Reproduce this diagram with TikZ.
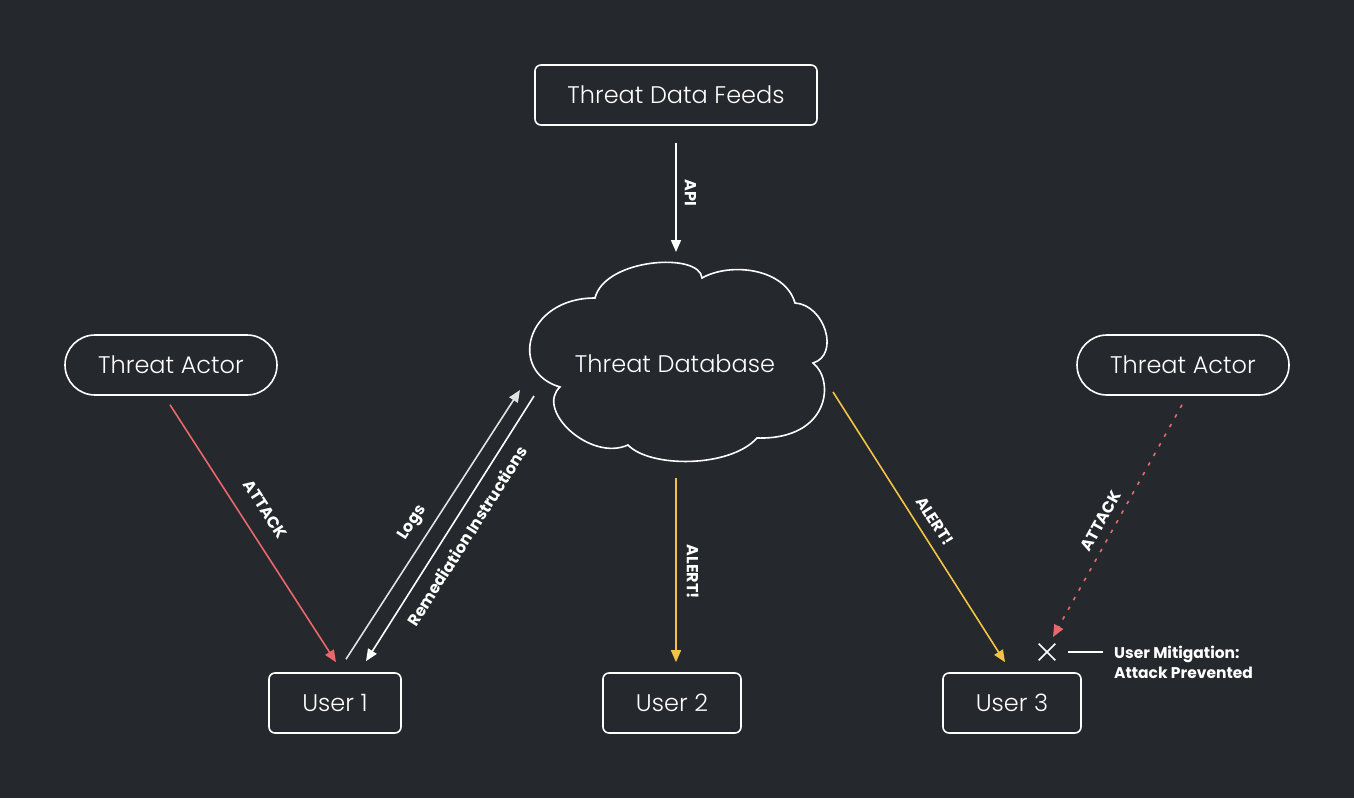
\documentclass[tikz,border=0pt]{standalone}
\usepackage{fontspec}
\setmainfont{Poppins}
\newfontfamily\lightfont{Poppins Light}
\usetikzlibrary{shapes.misc,arrows.meta,calc}
\definecolor{bg}{HTML}{25282C}
\definecolor{atk}{HTML}{E8686C}
\definecolor{alr}{HTML}{F4C245}
\definecolor{lg}{HTML}{E2E2E2}
\begin{document}
\begin{tikzpicture}[x=1pt,y=-1pt,
  box/.style={draw=white, line width=1.6pt, rounded corners=6pt, minimum height=60pt, inner sep=0pt, text=white, font=\lightfont\fontsize{24}{28}\selectfont},
  pill/.style={box, rounded corners=30pt},
  lbl/.style={text=white, font=\bfseries\fontsize{16}{18}\selectfont, sloped, inner sep=1pt},
  conn/.style={line width=1.6pt, -{Triangle[length=12pt,width=10pt]}},
  dotline/.style={conn, dash pattern=on 3.5pt off 7.5pt}
]
\fill[bg] (0,0) rectangle (1354,798);
\useasboundingbox (0,0) rectangle (1354,798);

% nodes
\node[box, minimum width=282pt] (feeds) at (676,95) {Threat Data Feeds};
\node[pill, minimum width=212pt] (ta1) at (171,365) {Threat Actor};
\node[pill, minimum width=212pt] (ta2) at (1183,365) {Threat Actor};
\node[box, minimum width=132pt] (u1) at (335,703) {User 1};
\node[box, minimum width=138pt] (u2) at (672,703) {User 2};
\node[box, minimum width=138pt] (u3) at (1012,703) {User 3};
\node[minimum width=300pt, minimum height=200pt, inner sep=0pt, text=white, font=\lightfont\fontsize{24}{28}\selectfont] (db) at (675,364) {Threat Database};
\node[cross out, draw=white, line width=1.6pt, minimum size=15pt, inner sep=0pt] (xm) at (1047,652) {};
\node[anchor=west, align=left, inner sep=0pt, text=white, font=\bfseries\fontsize{15.5}{20}\selectfont] (mit) at (1114,662) {User Mitigation:\\Attack Prevented};

% cloud outline
\draw[white, line width=1.6pt, line join=miter]
  (595,298) .. controls (605,258) and (700,252) .. (702,278)
  .. controls (730,262) and (785,268) .. (795,303)
  .. controls (825,305) and (840,355) .. (813,363)
  .. controls (835,380) and (830,440) .. (757,438)
  .. controls (730,468) and (650,468) .. (628,445)
  .. controls (590,462) and (535,410) .. (560,387)
  .. controls (508,372) and (525,298) .. cycle;

% connectors
\draw[conn, white] ($(feeds.south)+(0,17)$) -- node[lbl, pos=0.46, above=7pt]{API} ($(db.center)+(1,-112)$);
\draw[conn, atk] ($(ta1.south)+(-1,9)$) -- node[lbl, pos=0.455, above=16pt]{ATTACK} ($(u1.north)+(1,-10)$);
\draw[conn, lg] ($(u1.north)+(11,-13)$) -- node[lbl, pos=0.47, above=8pt]{Logs} ($(db.center)+(-155,26)$);
\draw[conn, white] ($(db.center)+(-141,32)$) -- node[lbl, pos=0.49, below=10pt]{Remediation Instructions} ($(u1.north)+(31,-11)$);
\draw[conn, alr] ($(db.center)+(1,114)$) -- node[lbl, pos=0.51, above=9pt]{ALERT!} ($(u2.north)+(4,-10)$);
\draw[conn, alr] ($(db.center)+(158,28)$) -- node[lbl, pos=0.51, above=9pt]{ALERT!} ($(u3.north)+(-7,-10)$);
\draw[dotline, atk] ($(ta2.south)+(-1,9)$) -- node[lbl, pos=0.53, above=7pt]{ATTACK} ($(xm.center)+(6,-15)$);
\draw[white, line width=1.6pt] ($(xm.center)+(21,0)$) -- ($(mit.west |- xm.center)+(-11,0)$);
\end{tikzpicture}
\end{document}
